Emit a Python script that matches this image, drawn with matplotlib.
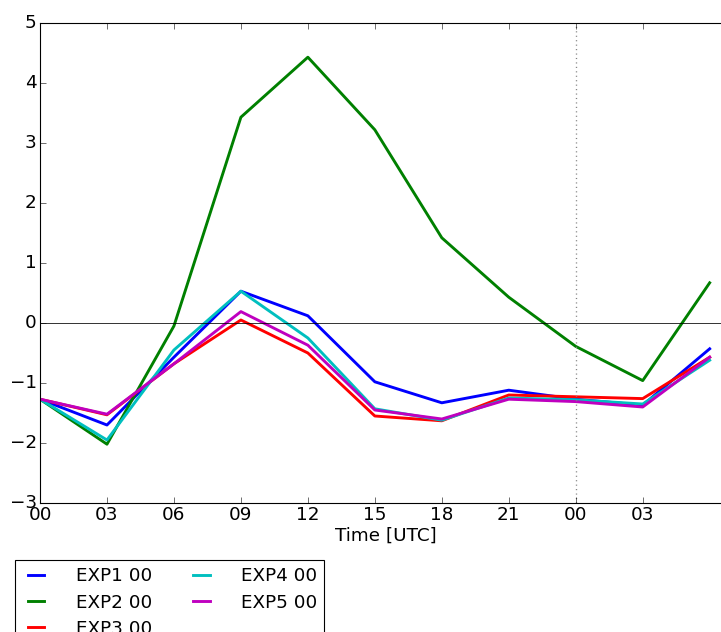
import matplotlib
matplotlib.use('Agg')
import matplotlib.pyplot as plt

hours = [0, 3, 6, 9, 12, 15, 18, 21, 24, 27, 30]
tick_pos = [0, 3, 6, 9, 12, 15, 18, 21, 24, 27]
tick_labels = ['00', '03', '06', '09', '12', '15', '18', '21', '00', '03']

exp1 = [-1.27, -1.70, -0.57, 0.53, 0.12, -0.98, -1.33, -1.12, -1.27, -1.37, -0.43]
exp2 = [-1.27, -2.02, -0.05, 3.43, 4.43, 3.22, 1.42, 0.43, -0.39, -0.96, 0.67]
exp3 = [-1.27, -1.53, -0.68, 0.05, -0.50, -1.55, -1.63, -1.20, -1.23, -1.26, -0.57]
exp4 = [-1.27, -1.95, -0.45, 0.53, -0.25, -1.43, -1.62, -1.25, -1.28, -1.35, -0.62]
exp5 = [-1.27, -1.52, -0.68, 0.19, -0.37, -1.45, -1.60, -1.27, -1.31, -1.40, -0.57]

names = ['EXP1 00', 'EXP2 00', 'EXP3 00', 'EXP4 00', 'EXP5 00']
colors = ['b', 'g', 'r', 'c', 'm']
series = [exp1, exp2, exp3, exp4, exp5]

plt.style.use('classic')
plt.rcParams['font.size'] = 16.5
fig = plt.figure(figsize=(721 / 80, 632 / 80), dpi=80, facecolor='white')
ax = fig.add_axes([40 / 721, 1 - 503 / 632, 692 / 721, 480 / 632])

for vals, name, c in zip(series, names, colors):
    ax.plot(hours, vals, color=c, lw=2.6, label=name)

ax.axhline(0, color='k', lw=0.7)
ax.axvline(24, color='gray', ls=':', lw=1.2)

ax.set_xlim(0, 31)
ax.set_ylim(-3, 5)
ax.set_xticks(tick_pos)
ax.set_xticklabels(tick_labels)
ax.tick_params(labelsize=16.5, length=5, pad=3)
ax.set_xlabel('Time [UTC]', fontsize=16.5, labelpad=2)

handles, labels = ax.get_legend_handles_labels()
fig.legend(handles, labels, loc='upper left', ncol=2,
           bbox_to_anchor=(15 / 721, 1 - 560 / 632), borderaxespad=0,
           fontsize=16.5, frameon=True, handlelength=1.5, handletextpad=1.4,
           columnspacing=1.95, labelspacing=0.45)

fig.savefig('out.png', dpi=80, facecolor='white')
